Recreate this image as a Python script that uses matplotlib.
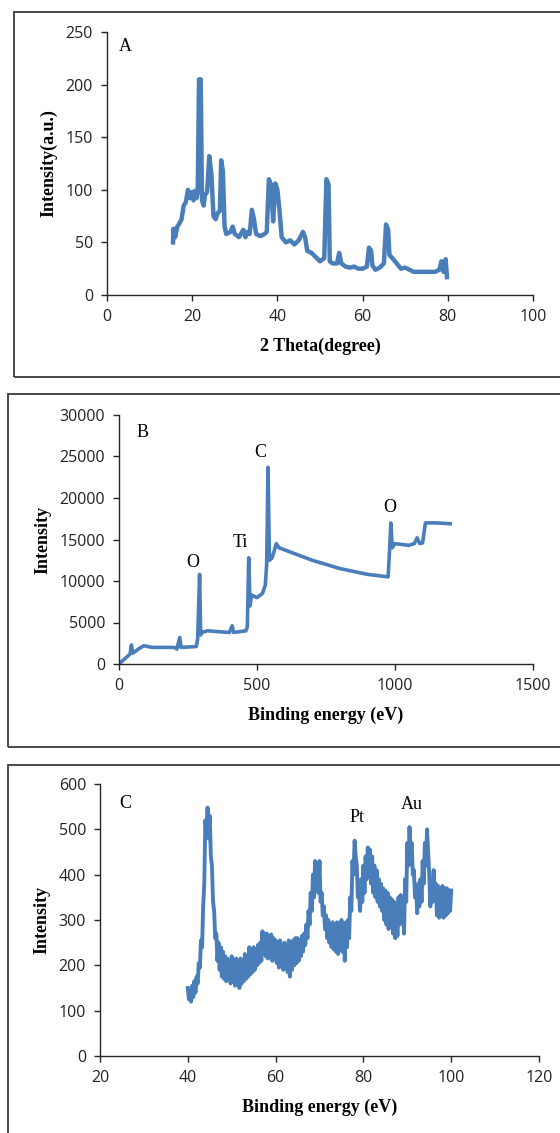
import matplotlib
matplotlib.use("Agg")
import matplotlib.pyplot as plt
import numpy as np
from matplotlib.patches import Rectangle

# --- panel A: XRD pattern ---
xrd_theta = [15.5, 15.6, 16, 16.5, 17, 17.5, 18, 18.5, 19, 19.5, 20, 20.3, 20.7, 21, 21.3,
             21.6, 22, 22.3, 22.7, 23, 23.5, 24, 24.5, 25, 25.5, 26, 26.5, 26.8, 27.2, 27.6,
             28, 29, 29.5, 30, 31, 32, 32.5, 33, 33.5, 34, 34.5, 35, 36, 37, 37.5, 38, 38.5,
             39, 39.5, 40, 40.5, 41, 42, 43, 44, 45, 46, 46.5, 47, 48, 49, 50, 51, 51.5, 52,
             52.3, 53, 54, 54.5, 55, 56, 57, 58, 59, 60, 61, 61.5, 62, 62.3, 63, 64, 65, 65.5,
             66, 66.3, 67, 68, 69, 70, 71, 72, 73, 74, 75, 76, 77, 78, 78.5, 79, 79.5, 79.8]
xrd_int = [50, 63, 55, 65, 68, 72, 85, 88, 100, 92, 98, 90, 99, 92, 98,
           205, 205, 90, 85, 95, 98, 132, 115, 75, 72, 78, 80, 128, 118, 65,
           58, 60, 65, 58, 55, 62, 55, 60, 58, 81, 72, 58, 56, 58, 60, 110, 105,
           70, 106, 100, 80, 55, 50, 52, 48, 52, 60, 55, 42, 40, 36, 32, 35, 110, 105,
           32, 30, 30, 40, 30, 27, 26, 27, 25, 25, 27, 45, 42, 28, 24, 26, 30, 67,
           62, 38, 35, 30, 25, 26, 24, 22, 22, 22, 22, 22, 22, 24, 32, 22, 34, 17]

# --- panel B: XPS survey ---
xps_be = [0, 20, 40, 45, 50, 70, 90, 120, 200, 210, 220, 225, 280, 285, 292, 296, 300, 320,
          400, 410, 415, 460, 465, 470, 475, 480, 500, 520, 530, 535, 540, 545, 555, 570, 580,
          700, 800, 900, 975, 980, 985, 990, 1000, 1050, 1070, 1080, 1090, 1100, 1110, 1150, 1200]
xps_int = [0, 600, 1200, 2300, 1300, 1800, 2200, 2000, 2000, 1800, 3200, 2000, 2100, 3000,
           10800, 3500, 3800, 4000, 3800, 4600, 3800, 4000, 4500, 12800, 7000, 8300, 8000,
           8500, 9500, 12000, 23700, 12500, 12800, 14500, 14000, 12500, 11500, 10800, 10500,
           13500, 17000, 14000, 14500, 14300, 14500, 15200, 14500, 14600, 17000, 17000, 16900]

# --- panel C: Pt/Au region, 0.25 eV steps from 40 to 100 ---
hr_be = list(np.arange(40, 100.001, 0.25))
hr_int = [150, 125, 145, 120, 155, 130, 165, 140, 175, 160, 205, 195, 255, 240, 330, 380,
          520, 490, 548, 480, 530, 440, 420, 340, 320, 260, 270, 210, 250, 190, 240, 175,
          230, 170, 220, 165,
          215, 170, 210, 160, 220, 165, 205, 155, 215, 160, 200, 150, 215, 160, 210, 165,
          225, 170, 220, 175, 240, 180, 230, 185, 240, 190, 235, 200, 245, 205, 250, 210,
          275, 225, 270, 220, 270, 215, 265, 220, 268, 210, 260, 215, 255, 205, 250, 195,
          255, 200, 245, 190, 250, 195, 245, 185, 255, 175, 250, 190, 255, 200, 260, 205,
          260, 210, 255, 220, 265, 230, 270, 245, 290, 260, 320, 290, 360, 320, 400, 350,
          430, 370, 425, 360, 430, 340, 360, 310, 330, 280, 310, 260, 300, 250, 290, 240,
          295, 235, 290, 230, 295, 225, 290, 240, 300, 230, 290, 210, 295, 240, 300, 260,
          350, 320, 430, 400, 475, 440, 420, 350, 360, 320, 390, 340, 420, 360, 440, 390,
          460, 410, 455, 380, 440, 360, 420, 350, 410, 340, 390, 330, 380, 320, 370, 300,
          365, 290, 360, 280, 350, 290, 345, 270, 340, 260, 335, 265, 350, 290, 355, 300,
          340, 270, 390, 340, 470, 420, 505, 450, 470, 400, 410, 350, 370, 315, 380, 330,
          390, 340, 430, 380, 470, 420, 500, 450, 400, 330, 390, 340, 410, 350, 380, 310,
          375, 305, 370, 310, 375, 305, 370, 310, 370, 315, 365, 320,
          365]

blue = '#4a7ebb'
tick_font = 'Open Sans'
label_font = 'Liberation Serif'

fig = plt.figure(figsize=(5.6, 11.33), dpi=100)

# panel frames (pixel boxes -> figure fraction)
W, H = 560, 1133
for (x0, y0, x1, y1) in [(14, 12, 570, 377), (8, 394, 570, 747), (8, 765, 570, 1140)]:
    fig.add_artist(Rectangle((x0 / W, 1 - y1 / H), (x1 - x0) / W, (y1 - y0) / H,
                             transform=fig.transFigure, fill=False,
                             edgecolor='#3a3a3a', lw=1.3, clip_on=False))


def style(ax, xlabel, ylabel):
    for s in ['top', 'right']:
        ax.spines[s].set_visible(False)
    for s in ['left', 'bottom']:
        ax.spines[s].set_color('#262626')
        ax.spines[s].set_linewidth(1.0)
    ax.tick_params(direction='out', length=4, width=1, color='#262626', pad=6,
                   labelsize=11.5, labelcolor='#222222')
    for lab in ax.get_xticklabels() + ax.get_yticklabels():
        lab.set_fontfamily(tick_font)
    ax.set_xlabel(xlabel, fontfamily=label_font, fontweight='bold', fontsize=13, labelpad=9)
    ax.set_ylabel(ylabel, fontfamily=label_font, fontweight='bold', fontsize=13, labelpad=6)


"""panel A"""
axA = fig.add_axes([107 / W, 1 - 295 / H, 426 / W, 263 / H])
axA.plot(xrd_theta, xrd_int, color=blue, lw=3.2, solid_joinstyle='round')
axA.set_xlim(0, 100)
axA.set_ylim(0, 250)
axA.set_xticks([0, 20, 40, 60, 80, 100])
axA.set_yticks([0, 50, 100, 150, 200, 250])
style(axA, '2 Theta(degree)', 'Intensity(a.u.)')
axA.text(4.2, 236, 'A', fontfamily=label_font, fontsize=13, ha='center', va='center')

"""panel B"""
axB = fig.add_axes([119 / W, 1 - 664 / H, 414 / W, 249 / H])
axB.plot(xps_be, xps_int, color=blue, lw=2.6, solid_joinstyle='round')
axB.set_xlim(0, 1500)
axB.set_ylim(0, 30000)
axB.set_xticks([0, 500, 1000, 1500])
axB.set_yticks(range(0, 30001, 5000))
style(axB, 'Binding energy (eV)', 'Intensity')
for (tx, ty, t) in [(87, 27950, 'B'), (511, 25540, 'C'), (438, 14580, 'Ti'),
                    (268, 12170, 'O'), (982, 18800, 'O')]:
    axB.text(tx, ty, t, fontfamily=label_font, fontsize=13, ha='center', va='center')

"""panel C"""
axC = fig.add_axes([100 / W, 1 - 1056 / H, 439 / W, 272 / H])
axC.plot(hr_be[:len(hr_int)], hr_int, color=blue, lw=2.8, solid_joinstyle='round')
axC.set_xlim(20, 120)
axC.set_ylim(0, 600)
axC.set_xticks(range(20, 121, 20))
axC.set_yticks(range(0, 601, 100))
style(axC, 'Binding energy (eV)', 'Intensity')
for (tx, ty, t) in [(25.7, 558, 'C'), (78.5, 525, 'Pt'), (91.1, 554, 'Au')]:
    axC.text(tx, ty, t, fontfamily=label_font, fontsize=13, ha='center', va='center')

fig.savefig('out.png', dpi=100)
